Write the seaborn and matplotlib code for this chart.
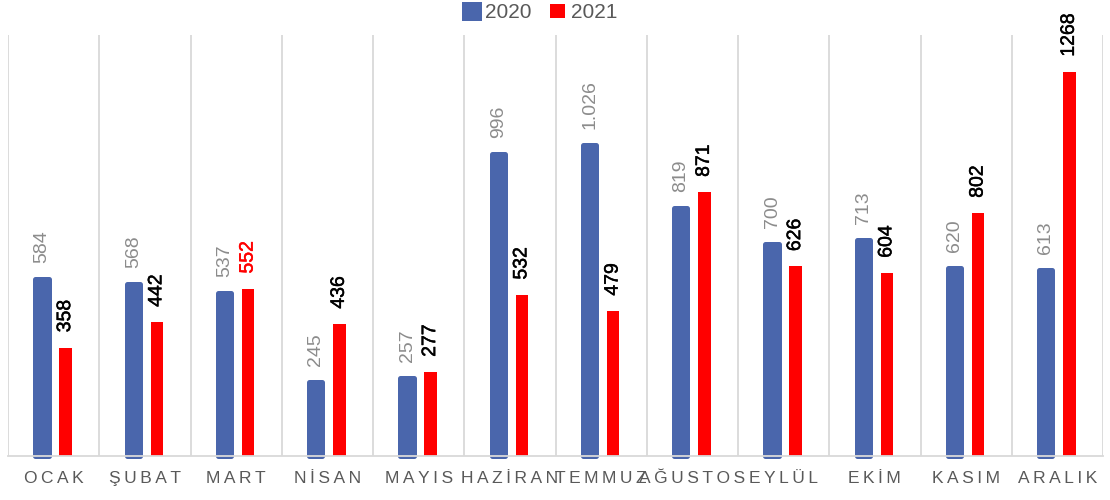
import matplotlib
matplotlib.use("Agg")
import matplotlib.pyplot as plt
import matplotlib.patheffects as pe
import seaborn as sns
import pandas as pd
import numpy as np
from matplotlib.patches import Patch

# ---- data ----
months = ["OCAK", "ŞUBAT", "MART", "NİSAN", "MAYIS", "HAZİRAN",
          "TEMMUZ", "AĞUSTOS", "EYLÜL", "EKİM", "KASIM", "ARALIK"]
series = ["2020", "2021"]
values_2020 = [584, 568, 537, 245, 257, 996, 1026, 819, 700, 713, 620, 613]
values_2021 = [358, 442, 552, 436, 277, 532, 479, 871, 626, 604, 802, 1268]

df = pd.DataFrame({
    "Ay": months * 2,
    "Yıl": [series[0]] * len(months) + [series[1]] * len(months),
    "Değer": values_2020 + values_2021,
})

# ---- style ----
BLUE = "#4A66AC"
RED = "#FF0000"
GRID = "#D9D9D9"
TXT = "#595959"
LBL20 = "#8C8C8C"

sns.set_theme(style="white")
plt.rcParams["font.family"] = ["Liberation Sans", "DejaVu Sans"]

fig = plt.figure(figsize=(11.1, 5), dpi=100)
ax = fig.add_axes([8 / 1110, 44 / 500, 1095 / 1110, 421 / 500])

sns.barplot(data=df, x="Ay", y="Değer", hue="Yıl", order=months,
            hue_order=series, palette={series[0]: BLUE, series[1]: RED},
            width=0.5, saturation=1, errorbar=None, ax=ax)

px = 1 / 91.25  # one pixel in category units
blue_lw_pt = 5 * 0.72
for i, bar in enumerate(ax.containers[0]):
    w = 13.3 * px
    bar.set_x(i - 11.6 * px - w / 2)
    bar.set_width(w)
    bar.set_edgecolor(BLUE)
    bar.set_linewidth(blue_lw_pt)
    bar.set_joinstyle("round")
    bar.set_clip_on(False)
for i, bar in enumerate(ax.containers[1]):
    w = 12.4 * px
    bar.set_x(i + 12.0 * px - w / 2)
    bar.set_width(w)
    bar.set_linewidth(0)

# value labels
def fmt2020(v):
    return f"{v:,}".replace(",", ".")

for i, bar in enumerate(ax.containers[0]):
    cx = bar.get_x() + bar.get_width() / 2
    ax.annotate(fmt2020(values_2020[i]), (cx, values_2020[i]), xytext=(0, 11.5),
                textcoords="offset points", rotation=90, ha="center", va="bottom",
                fontsize=14, color=LBL20)
for i, bar in enumerate(ax.containers[1]):
    cx = bar.get_x() + bar.get_width() / 2
    col = RED if months[i] == "MART" else "black"
    t = ax.annotate(str(values_2021[i]), (cx, values_2021[i]), xytext=(0, 11),
                    textcoords="offset points", rotation=90, ha="center", va="bottom",
                    fontsize=14, color=col)
    t.set_path_effects([pe.withStroke(linewidth=0.35, foreground=col)])

# axes
ax.set_xlim(-0.5, len(months) - 0.5)
ax.set_ylim(0, 1390)
ax.set_xlabel("")
ax.set_ylabel("")
ax.set_yticks([])
ax.set_xticks(range(len(months)))
ax.set_xticklabels(["\u2009".join(m) for m in months], fontsize=12.5, color=TXT)
ax.tick_params(axis="x", length=0, pad=11)
ax.set_xticks(np.arange(-0.5, len(months), 1), minor=True)
ax.tick_params(axis="x", which="minor", length=0)
ax.grid(which="minor", axis="x", color=GRID, linewidth=1.3)
ax.set_axisbelow(True)
for s in ["top", "right", "left"]:
    ax.spines[s].set_visible(False)
ax.spines["bottom"].set_color(GRID)
ax.spines["bottom"].set_linewidth(1.3)

# legend
if ax.get_legend() is not None:
    ax.get_legend().remove()
handles = [Patch(facecolor=BLUE, edgecolor=BLUE, linewidth=blue_lw_pt, joinstyle="round"),
           Patch(facecolor=RED, edgecolor=RED, linewidth=0)]
leg = fig.legend(handles, series, loc="upper center", bbox_to_anchor=(541 / 1110, 1.0),
                 ncol=2, frameon=False, fontsize=15, handlelength=0.7,
                 handleheight=0.7, handletextpad=0.3, columnspacing=0.9,
                 borderaxespad=0.05, borderpad=0.1)
for t in leg.get_texts():
    t.set_color(TXT)

fig.savefig("out.png", dpi=100)
